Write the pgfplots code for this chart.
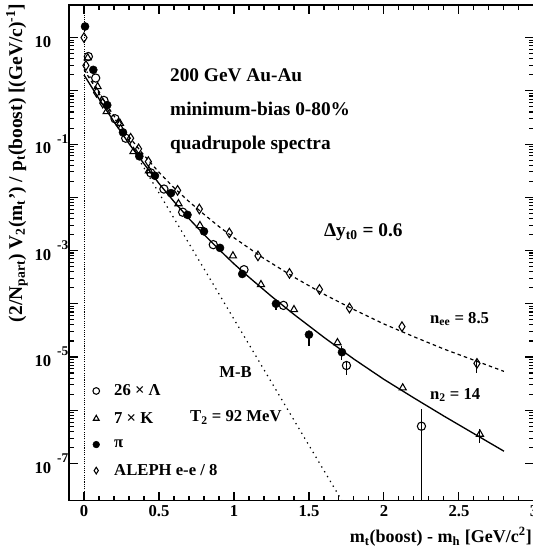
\documentclass[border=0pt]{standalone}
\usepackage{fontspec}
\setmainfont{Liberation Serif}
\usepackage{pgfplots}
\pgfplotsset{compat=1.18}

% tick label of the form 10^n, ROOT style (exponent set apart and raised)
\newcommand{\ex}[1]{10\hspace{4.5pt}\raisebox{8pt}{\fontsize{10}{10}\selectfont #1}}
\newcommand{\exten}{10\hspace{4.5pt}\phantom{\raisebox{8pt}{\fontsize{10}{10}\selectfont -1}}}

\pgfplotsset{
  lgd/.style={legend image code/.code={
    \path[draw=none, fill=none] (0pt,-3pt) rectangle (17pt,3pt);
    \draw[##1, mark size=2.5pt] plot coordinates {(3.5pt,0pt)};}},
}

\begin{document}
\begin{tikzpicture}
\begin{axis}[
  scale only axis,
  width=348.75pt, height=371.8pt,
  xmin=-0.1, xmax=3.0,
  ymode=log, ymin=2e-8, ymax=41,
  axis line style={line width=1.1pt},
  tick style={line width=0.8pt, black},
  tick align=inside,
  major tick length=6.5pt, minor tick length=3.5pt,
  xtick={0,0.5,1,1.5,2,2.5,3},
  xticklabels={0,0.5,1,1.5,2,2.5,3},
  minor x tick num=4,
  ytick={1e-7,1e-6,1e-5,1e-4,1e-3,1e-2,1e-1,1,10},
  yticklabels={\ex{-7},,\ex{-5},,\ex{-3},,\ex{-1},,\exten},
  tick label style={font=\bfseries\fontsize{12.5}{13}\selectfont},
  yticklabel style={xshift=3pt},
  clip mode=individual,
  legend style={at={(rel axis cs:0.048,0.235)}, anchor=north west,
    draw=none, fill=none, font=\bfseries\fontsize{12.5}{14}\selectfont,
    row sep=11pt, inner sep=0pt, nodes={inner sep=0pt}},
  legend cell align=left,
  error bars/error bar style={line width=0.8pt},
]
% dotted line at zero
\addplot[black, line width=0.7pt, dash pattern=on 0.8pt off 0.9pt, forget plot]
  coordinates {(0,2e-8) (0,41)};

% M-B, T2 = 92 MeV
\addplot[black, line width=0.9pt, dash pattern=on 1pt off 3.2pt, forget plot]
  coordinates {(0,2.82) (1.75,1.43e-8)};

% n_ee = 8.5 (ALEPH fit)
\addplot[black, line width=0.9pt, dash pattern=on 2.6pt off 2.4pt, forget plot]
  coordinates {
  (0,2.51) (0.1,0.891) (0.2,0.339) (0.3,0.138) (0.4,0.0617) (0.5,0.0295)
  (0.6,0.0151) (0.7,0.00832) (0.8,0.00479) (0.9,0.00282) (1.0,0.00174)
  (1.2,7.08e-4) (1.4,3.16e-4) (1.6,1.51e-4) (1.8,7.76e-5) (2.0,4.17e-5)
  (2.2,2.40e-5) (2.4,1.41e-5) (2.6,8.71e-6) (2.8,5.37e-6)};

% n_2 = 14
\addplot[black, line width=1pt, forget plot]
  coordinates {
  (0,1.995) (0.1,0.708) (0.2,0.263) (0.3,0.102) (0.4,0.0427) (0.5,0.0182)
  (0.6,0.00832) (0.7,0.00398) (0.8,0.00200) (0.9,0.00105) (1.0,5.62e-4)
  (1.1,3.16e-4) (1.25,1.38e-4) (1.4,6.31e-5) (1.6,2.34e-5) (1.8,9.12e-6)
  (2.0,3.80e-6) (2.2,1.70e-6) (2.4,7.76e-7) (2.6,3.63e-7) (2.8,1.70e-7)};

% 26 x Lambda
\addplot[only marks, lgd, mark=o, mark size=3.1pt, mark options={line width=0.8pt, fill=white},
  error bars/.cd, y dir=both, y explicit, error mark=none]
  coordinates {
  (0.029,4.41) (0.078,1.74) (0.133,0.661) (0.207,0.299) (0.278,0.129)
  (0.445,0.0288) (0.533,0.0143) (0.658,0.00525) (0.862,0.00129)
  (1.067,4.37e-4) (1.33,9.33e-5)
  (1.75,6.92e-6) += (0,1.0e-6) -= (0,2.24e-6)
  (2.25,5.01e-7) += (0,5.5e-7) -= (0,4.99e-7)};
\addlegendentry{26 × Λ}

% 7 x K
\addplot[only marks, lgd, mark=triangle, mark size=3.1pt, mark options={line width=0.8pt, fill=white},
  error bars/.cd, y dir=both, y explicit, error mark=none]
  coordinates {
  (0.025,4.17) (0.091,1.20) (0.151,0.407) (0.24,0.245) (0.33,0.0724)
  (0.433,0.0316) (0.63,0.00759) (0.773,0.00295) (0.993,7.94e-4)
  (1.18,2.29e-4) (1.40,7.76e-5) (1.69,1.86e-5) (2.125,2.63e-6)
  (2.64,3.55e-7) += (0,8.2e-8) -= (0,1.1e-7)};
\addlegendentry{7 × K}

% pi
\addplot[only marks, lgd, mark=*, mark size=3pt, mark options={fill=black},
  error bars/.cd, y dir=both, y explicit, error mark=none]
  coordinates {
  (0.007,16.2) (0.062,2.48) (0.155,0.540) (0.26,0.166) (0.369,0.0589)
  (0.473,0.0254) (0.58,0.0120) (0.69,0.00468) (0.80,0.00229)
  (0.907,0.00112) (1.055,3.63e-4)
  (1.28,1.0e-4) += (0,0) -= (0,2.2e-5)
  (1.50,2.63e-5) += (0,5e-6) -= (0,1.05e-5)
  (1.72,1.23e-5) += (0,3.5e-6) -= (0,3.4e-6)};
\addlegendentry{π}

% ALEPH e-e / 8
\addplot[only marks, lgd, mark=diamond, mark size=3.6pt, mark options={line width=0.8pt, fill=white, xscale=0.85},
  error bars/.cd, y dir=both, y explicit, error mark=none]
  coordinates {
  (0.0,10) (0.013,2.99) (0.084,0.933) (0.125,0.589) (0.229,0.245)
  (0.311,0.129) (0.364,0.0813) (0.429,0.0468) (0.624,0.0135)
  (0.769,0.00603) (0.969,0.00214) (1.16,7.94e-4) (1.37,3.72e-4)
  (1.57,1.86e-4) (1.77,8.32e-5) (2.12,3.72e-5)
  (2.62,7.59e-6) += (0,1.7e-6) -= (0,2.6e-6)};
\addlegendentry{ALEPH e-e / 8}

\begin{scope}[every node/.style={font=\bfseries\fontsize{14.5}{15}\selectfont, inner sep=0pt, anchor=base west}]
\node at (rel axis cs:0.217,0.845) {200 GeV Au-Au};
\node at (rel axis cs:0.217,0.777) {minimum-bias 0-80\%};
\node at (rel axis cs:0.217,0.709) {quadrupole spectra};
\node at (rel axis cs:0.548,0.532) {Δy\textsubscript{t0} = 0.6};
\end{scope}
\begin{scope}[every node/.style={font=\bfseries\fontsize{12.5}{13}\selectfont, inner sep=0pt, anchor=base west}]
\node at (rel axis cs:0.776,0.358) {n\textsubscript{ee} = 8.5};
\node at (rel axis cs:0.776,0.205) {n\textsubscript{2} = 14};
\node at (rel axis cs:0.323,0.249) {M-B};
\node at (rel axis cs:0.260,0.159) {T\textsubscript{2} = 92 MeV};
\end{scope}

% axis titles
\node[font=\bfseries\fontsize{13.5}{14}\selectfont, inner sep=0pt, anchor=south east]
  at (rel axis cs:0.996,-0.093) {m\textsubscript{t}(boost) - m\textsubscript{h} [GeV/c\textsuperscript{2}]};
\node[font=\bfseries\fontsize{14.6}{15}\selectfont, inner sep=0pt, rotate=90, anchor=south east]
  at (rel axis cs:-0.088,1.003) {(2/N\textsubscript{part}) V\textsubscript{2}(m\textsubscript{t}') / p\textsubscript{t}(boost) [(GeV/c)\textsuperscript{-1}]};
\end{axis}
\pgfresetboundingbox
\path[use as bounding box] ([xshift=-51.75pt,yshift=-35.5pt]current axis.south west)
  rectangle ([xshift=-0.75pt,yshift=3.75pt]current axis.north east);
\end{tikzpicture}
\end{document}
